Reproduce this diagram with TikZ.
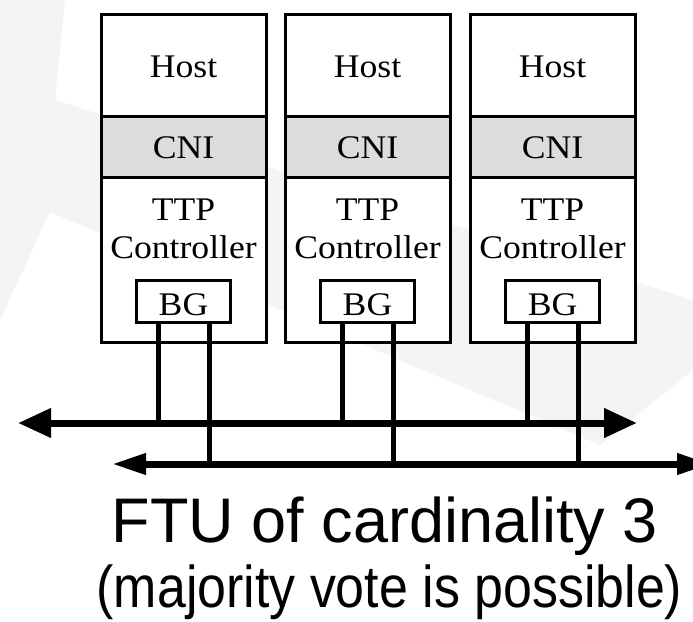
\documentclass[tikz,border=0pt]{standalone}
\usepackage{fontspec}
\setmainfont{Liberation Serif}
\newfontfamily\sansf{Liberation Sans}
\usetikzlibrary{arrows.meta}
\definecolor{cnigray}{RGB}{220,220,220}
\definecolor{wmgray}{RGB}{244,244,244}
\begin{document}
\begin{tikzpicture}[x=1pt,y=-1pt,
  layer/.style={draw, line width=3pt, minimum width=165pt, inner sep=0pt},
  bgbox/.style={draw, line width=3pt, fill=white, minimum width=94pt, minimum height=42pt, inner sep=0pt},
  lbl/.style={anchor=base, font=\fontsize{33}{38}\selectfont, xscale=1.08, inner sep=0pt},
  vline/.style={line width=5pt},
  bus/.style={line width=7pt},
  tipA/.tip={Triangle[length=33pt,width=28pt]},
  tipB/.tip={Triangle[length=34pt,width=20pt]}]
\useasboundingbox (0,0) rectangle (693,621);
\clip (0,0) rectangle (693,621);
\fill[white] (0,0) rectangle (693,621);
% faint watermark
\fill[wmgray] (0,0) -- (65,0) -- (55,100) -- (693,300) -- (693,370) -- (600,445) -- (50,212) -- (0,320) -- cycle;

\foreach \i/\c in {1/183.5, 2/367.5, 3/552.5}{
  \node[layer, fill=white, minimum height=102pt] (host\i) at (\c,65) {};
  \node[layer, fill=cnigray, minimum height=61pt] (cni\i) at (\c,146.5) {};
  \node[layer, fill=white, minimum height=165pt] (ttp\i) at (\c,259.5) {};
  \node[lbl] (hostt\i) at (\c,77) {Host};
  \node[lbl] (cnit\i) at (\c,158) {CNI};
  \node[lbl] (ttpt\i) at (\c,220) {TTP};
  \node[lbl] (ctrlt\i) at (\c,258) {Controller};
  \node[bgbox] (bg\i) at (\c,301) {};
  \node[lbl] (bgt\i) at (\c,315) {BG};
}

\coordinate (busAL) at (18,423);
\coordinate (busAR) at (637,423);
\coordinate (busBL) at (112,464);
\coordinate (busBR) at (711,464);

\foreach \i in {1,2,3}{
  \draw[vline] ([xshift=-25.5pt]bg\i.south) -- ([xshift=-25.5pt]bg\i.south |- busAL);
  \draw[vline] ([xshift=25.5pt]bg\i.south) -- ([xshift=25.5pt]bg\i.south |- busBL);
}

\draw[bus, tipA-tipA] (busAL) -- (busAR);
\draw[bus, tipB-tipB] (busBL) -- (busBR);

\node[anchor=base, font=\sansf\fontsize{63}{70}\selectfont, inner sep=0pt] (ftu) at (385,542) {FTU of cardinality 3};
\node[anchor=base, font=\sansf\fontsize{59}{66}\selectfont, xscale=0.88, inner sep=0pt] (vote) at (389.5,607) {(majority vote is possible)};
\end{tikzpicture}
\end{document}
